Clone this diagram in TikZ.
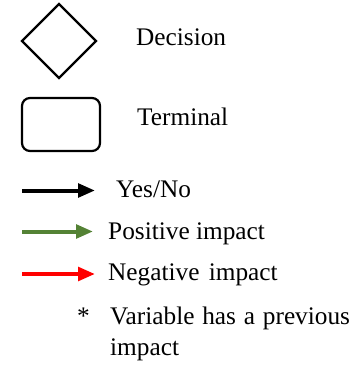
\documentclass[tikz,border=0pt]{standalone}
\usepackage{fontspec}
\setmainfont{Liberation Serif}
\usetikzlibrary{arrows.meta}
\definecolor{posgreen}{HTML}{548235}
\definecolor{negred}{HTML}{FF0000}
\tikzset{
  x=1pt, y=-1pt,
  label text/.style={inner sep=0pt, anchor=base west, font=\fontsize{25.3}{30}\selectfont},
  symbol line/.style={draw=black, line width=2.2pt},
  legend arrow/.style={line width=4pt, -{Triangle[length=17pt,width=13.5pt]}},
}
\begin{document}
\begin{tikzpicture}
  \useasboundingbox (0,0) rectangle (351,366);

  % decision diamond
  \draw[symbol line, line join=miter] (59,4) -- (96,41) -- (59,78) -- (22,41) -- cycle;
  \node[label text] (dec) at (136,46) {Decision};

  % terminal box
  \node[symbol line, rounded corners=8pt, minimum width=78pt, minimum height=53pt, inner sep=0pt]
    (term) at (61,124.5) {};
  \node[label text] (termtxt) at (137,126) {Terminal};

  % arrow samples
  \coordinate (k0) at (22,190.5);  \coordinate (k1) at (95,190.5);
  \coordinate (g0) at (22,231.5);  \coordinate (g1) at (93,231.5);
  \coordinate (r0) at (22,274);    \coordinate (r1) at (95,274);
  \draw[legend arrow, black]    (k0) -- (k1);
  \draw[legend arrow, posgreen] (g0) -- (g1);
  \draw[legend arrow, negred]   (r0) -- (r1);

  \node[label text] (yn)  at (116,197) {Yes/No};
  \node[label text] (pos) at (108,239) {Positive impact};
  \node[label text] (neg) at (108,280) {Negative\hspace{3pt} impact};

  % footnote marker
  \node[label text] (star) at (77,324) {*};
  \node[label text] (var1) at (110,324) {Variable\hspace{1.5pt} has\hspace{1.5pt} a\hspace{1.5pt} previous};
  \node[label text] (var2) at (110,355) {impact};
\end{tikzpicture}
\end{document}
